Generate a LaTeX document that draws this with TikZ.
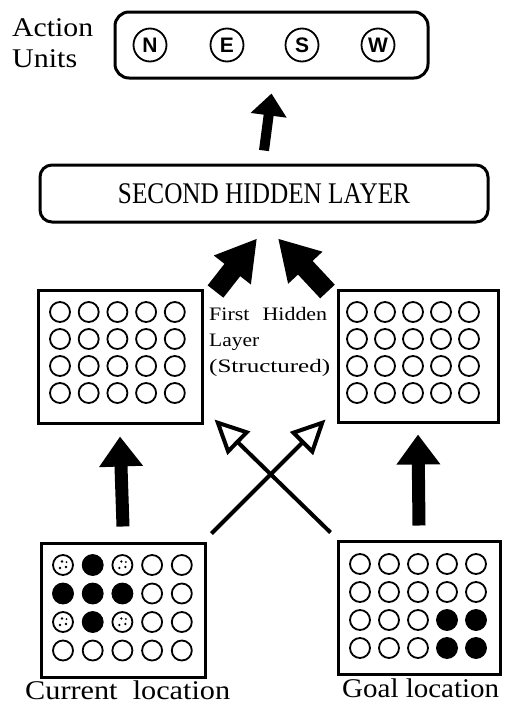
\documentclass[tikz,border=0pt]{standalone}
\usepackage{fontspec}
\usepackage{graphicx}
\setmainfont{Liberation Serif}
\newfontfamily\unitfont{Liberation Sans}
\usetikzlibrary{arrows.meta}
\newcommand{\wfit}[2]{\resizebox{#1}{\height}{#2}}
\tikzset{
  layerbox/.style={draw, line width=3pt, inner sep=0pt},
  unit/.style={circle, draw, line width=1.8pt, minimum size=20pt, inner sep=0pt},
  actunit/.style={circle, draw, line width=1.8pt, minimum size=33pt, inner sep=0pt,
    font=\unitfont\bfseries\fontsize{21}{21}\selectfont},
  bigarrow/.style={line width=13pt, -{Triangle[width=42pt,length=30pt]}},
  toparrow/.style={line width=10pt, -{Triangle[width=35pt,length=22pt]}},
  diagarrow/.style={line width=20pt, -{Triangle[width=44pt,length=40pt]}},
  openarrow/.style={line width=4pt, -{Triangle[open,width=32pt,length=34pt]}},
  lbl/.style={inner sep=0pt, anchor=base west},
}
\begin{document}
\begin{tikzpicture}[x=1pt,y=-1pt]
\useasboundingbox (0,0) rectangle (505,704);
% labels
\node[lbl, font=\fontsize{27}{27}\selectfont] (act) at (12,36) {\wfit{81pt}{Action}};
\node[lbl, font=\fontsize{27}{27}\selectfont] (uni) at (12,67) {\wfit{65pt}{Units}};
% action units box
\node[layerbox, rounded corners=14pt, minimum width=313pt, minimum height=66pt] (top) at (271.5,45) {};
\node[actunit] (N) at (150,45) {N};
\node[actunit] (E) at (227,45) {E};
\node[actunit] (S) at (302,45) {S};
\node[actunit] (W) at (378,45) {W};
% second hidden layer
\node[layerbox, rounded corners=12pt, minimum width=448pt, minimum height=57pt] (second) at (264,193.5)
  {\fontsize{30}{30}\selectfont\wfit{292pt}{SECOND HIDDEN LAYER}};
% first hidden layer boxes
\node[layerbox, minimum width=164pt, minimum height=133pt] (fl) at (120,356.5) {};
\node[layerbox, minimum width=160pt, minimum height=132pt] (fr) at (418,356) {};
\foreach \r in {1,...,4} {
  \foreach \c in {1,...,5} {
    \node[unit] (fl-\r-\c) at ({60+(\c-1)*28.7},{312+(\r-1)*27}) {};
    \node[unit] (fr-\r-\c) at ({357+(\c-1)*28},{312+(\r-1)*27}) {};
  }
}
\node[lbl, font=\fontsize{19}{19}\selectfont] (t1) at (209,320) {\wfit{118pt}{First\hspace{0.6em}Hidden}};
\node[lbl, font=\fontsize{19}{19}\selectfont] (t2) at (209,346) {\wfit{50pt}{Layer}};
\node[lbl, font=\fontsize{19}{19}\selectfont] (t3) at (209,372) {\wfit{121pt}{(Structured)}};
% input boxes
\node[layerbox, minimum width=164pt, minimum height=134pt] (bl) at (123,610) {};
\node[layerbox, minimum width=162pt, minimum height=133pt] (br) at (419,607.5) {};
\foreach \r in {1,...,4} {
  \foreach \c in {1,...,5} {
    \node[unit] (bl-\r-\c) at ({63+(\c-1)*29.7},{565+(\r-1)*28.5}) {};
    \node[unit] (br-\r-\c) at ({360+(\c-1)*29},{564+(\r-1)*28}) {};
  }
}
\foreach \n in {bl-1-2,bl-2-1,bl-2-2,bl-2-3,bl-3-2,br-3-4,br-3-5,br-4-4,br-4-5}
  \fill (\n) circle (10.5pt);
\foreach \n in {bl-1-1,bl-1-3,bl-3-1,bl-3-3} {
  \fill ([shift={(-3pt,-3pt)}]\n.center) circle (1.3pt);
  \fill ([shift={(3pt,-2pt)}]\n.center) circle (1.3pt);
  \fill ([shift={(-1pt,3.5pt)}]\n.center) circle (1.3pt);
  \fill ([shift={(3.5pt,3pt)}]\n.center) circle (1pt);
}
\node[lbl, font=\fontsize{27}{27}\selectfont] (cur) at (25,699) {\wfit{205pt}{Current\hspace{0.5em}location}};
\node[lbl, font=\fontsize{27}{27}\selectfont] (goal) at (342,697) {\wfit{157pt}{Goal location}};
% connectors
\draw[toparrow] ([yshift=13pt]second.north) -- ([yshift=-14pt]top.south);
\draw[diagarrow] ([xshift=12pt,yshift=-3pt]fl.north east) -- ([xshift=-7pt,yshift=-15pt]second.south);
\draw[diagarrow] ([xshift=-9pt,yshift=-3pt]fr.north west) -- ([xshift=14pt,yshift=-15pt]second.south);
\draw[bigarrow] ([yshift=15pt]bl.north) -- ([yshift=-12pt]fl.south);
\draw[bigarrow] ([yshift=14pt]br.north) -- ([yshift=-11pt]fr.south);
\draw[openarrow] ([xshift=-6pt,yshift=7pt]br.north west) -- ([xshift=11pt,yshift=5pt]fl.south east);
\draw[openarrow] ([xshift=5pt,yshift=8pt]bl.north east) -- ([xshift=-11pt,yshift=4pt]fr.south west);
\end{tikzpicture}
\end{document}
